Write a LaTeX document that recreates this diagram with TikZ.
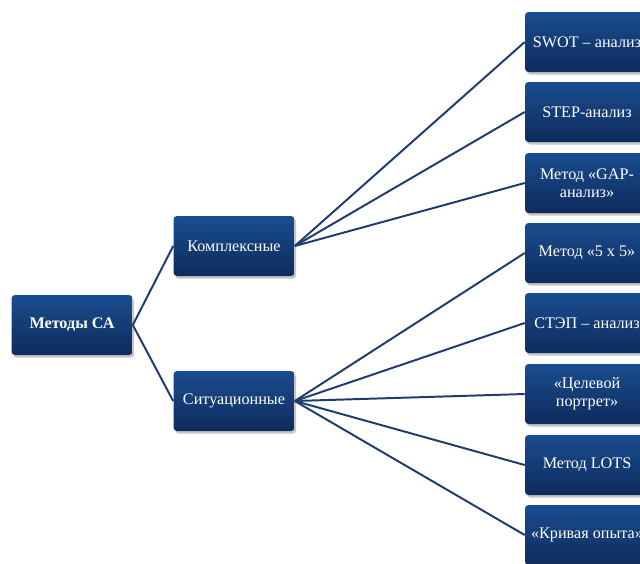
\documentclass[tikz,border=0pt]{standalone}
\usepackage{fontspec}
\setmainfont{Liberation Serif}
\usepackage{tikz}
\usetikzlibrary{positioning}
\usetikzlibrary{shadows}

\definecolor{boxtop}{HTML}{1A4D8F}
\definecolor{boxbottom}{HTML}{0E2B5C}
\definecolor{linkblue}{HTML}{1F3C6E}

\begin{document}
\begin{tikzpicture}[scale=1,
        methodbox/.style={shape=rectangle, rounded corners=2.5pt, top color=boxtop, bottom color=boxbottom,
            draw=none, text=white, align=center, minimum height=1.5cm, inner sep=2pt,
            font=\fontsize{11.5}{13}\selectfont,
            drop shadow={opacity=0.45, shadow xshift=1.2pt, shadow yshift=-1.8pt}},
        midbox/.style={methodbox, minimum width=3.025cm},
        leafbox/.style={methodbox, minimum width=3.1cm},
        link/.style={draw=linkblue, line width=1.4pt}]
        \useasboundingbox (0,0) rectangle (16,-14.075);

        % root
        \node (ca) at (1.8,-8.125) [midbox, font=\fontsize{11.5}{13}\selectfont\bfseries] {Методы СА};

        % groups
        \node (kompl) at (5.85,-6.15) [midbox] {Комплексные};
        \node (sit) at (5.85,-10.025) [midbox] {Ситуационные};

        % methods
        \node (swot) at (14.675,-1.05) [leafbox] {SWOT – анализ};
        \node (step) at (14.675,-2.8) [leafbox] {STEP-анализ};
        \node (gap) at (14.675,-4.575) [leafbox] {Метод «GAP-\\анализ»};
        \node (five) at (14.675,-6.325) [leafbox] {Метод «5 x 5»};
        \node (stap) at (14.675,-8.075) [leafbox] {СТЭП – анализ};
        \node (target) at (14.675,-9.85) [leafbox] {«Целевой\\портрет»};
        \node (lots) at (14.675,-11.625) [leafbox] {Метод LOTS};
        \node (curve) at (14.675,-13.375) [leafbox] {«Кривая опыта»};

        \draw[link] (ca.east) -- (kompl.west);
        \draw[link] (ca.east) -- (sit.west);
        \foreach \m in {swot,step,gap}
            \draw[link] (kompl.east) -- (\m.west);
        \foreach \m in {five,stap,target,lots,curve}
            \draw[link] (sit.east) -- (\m.west);
    \end{tikzpicture}
\end{document}
